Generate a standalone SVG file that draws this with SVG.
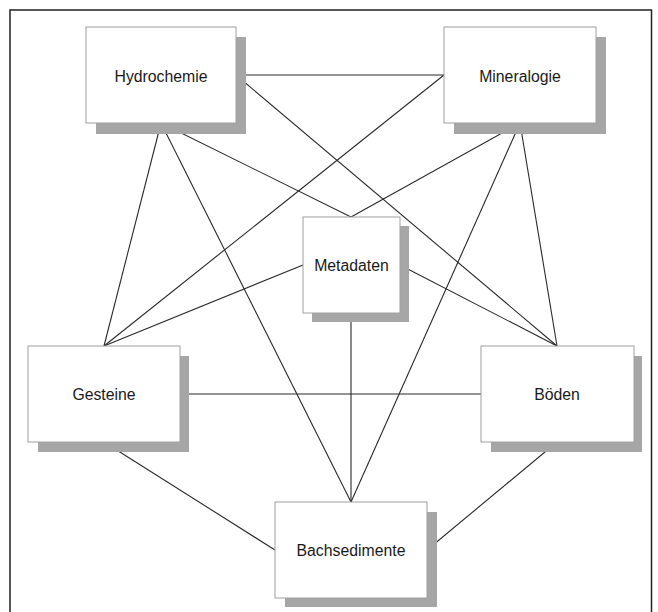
<svg xmlns="http://www.w3.org/2000/svg" width="658" height="612" viewBox="0 0 658 612">
<style>
.shadow{fill:#a6a6a6;stroke:none}
.box{fill:#ffffff;stroke:#a0a0a0;stroke-width:1}
.lbl{font-family:"Liberation Sans",Arial,sans-serif;font-size:15.8px;fill:#1a1a1a;text-anchor:middle}
.conn line{stroke:#2a2a2a;stroke-width:1.1}
</style>
<rect x="0" y="0" width="658" height="612" fill="#ffffff"/>
<rect x="10" y="10" width="641.5" height="606" fill="none" stroke="#222222" stroke-width="1.5"/>
<g id="connectors" class="conn">
<line x1="236" y1="75" x2="444" y2="75"/>
<line x1="161" y1="123" x2="104" y2="346"/>
<line x1="161" y1="123" x2="351" y2="502"/>
<line x1="161" y1="123" x2="351" y2="217"/>
<line x1="236" y1="75" x2="557" y2="346"/>
<line x1="444" y1="75" x2="104" y2="346"/>
<line x1="520" y1="123" x2="351" y2="217"/>
<line x1="520" y1="123" x2="351" y2="502"/>
<line x1="520" y1="123" x2="557" y2="346"/>
<line x1="303" y1="265" x2="104" y2="346"/>
<line x1="400" y1="265" x2="557" y2="346"/>
<line x1="351" y1="313" x2="351" y2="502"/>
<line x1="180" y1="394" x2="481" y2="394"/>
<line x1="104" y1="442" x2="275" y2="550"/>
<line x1="557" y1="442" x2="427" y2="550"/>
</g>
<g id="hydrochemie">
<rect class="shadow" x="96" y="37" width="150" height="97"/>
<rect class="box" x="86" y="27" width="150" height="96"/>
<text class="lbl" x="161" y="81.5">Hydrochemie</text>
</g>
<g id="mineralogie">
<rect class="shadow" x="454" y="37" width="152" height="97"/>
<rect class="box" x="444" y="27" width="152" height="96"/>
<text class="lbl" x="520" y="81.5">Mineralogie</text>
</g>
<g id="metadaten">
<rect class="shadow" x="312" y="226" width="97" height="96"/>
<rect class="box" x="303" y="217" width="97" height="96"/>
<text class="lbl" x="351.5" y="270.5">Metadaten</text>
</g>
<g id="gesteine">
<rect class="shadow" x="38" y="356" width="151" height="96"/>
<rect class="box" x="28" y="346" width="152" height="96"/>
<text class="lbl" x="104" y="399.5">Gesteine</text>
</g>
<g id="boeden">
<rect class="shadow" x="491" y="356" width="151" height="96"/>
<rect class="box" x="481" y="346" width="153" height="96"/>
<text class="lbl" x="557" y="399.5">Böden</text>
</g>
<g id="bachsedimente">
<rect class="shadow" x="285" y="512" width="152" height="95"/>
<rect class="box" x="275" y="502" width="152" height="96"/>
<text class="lbl" x="351" y="556">Bachsedimente</text>
</g>
</svg>
